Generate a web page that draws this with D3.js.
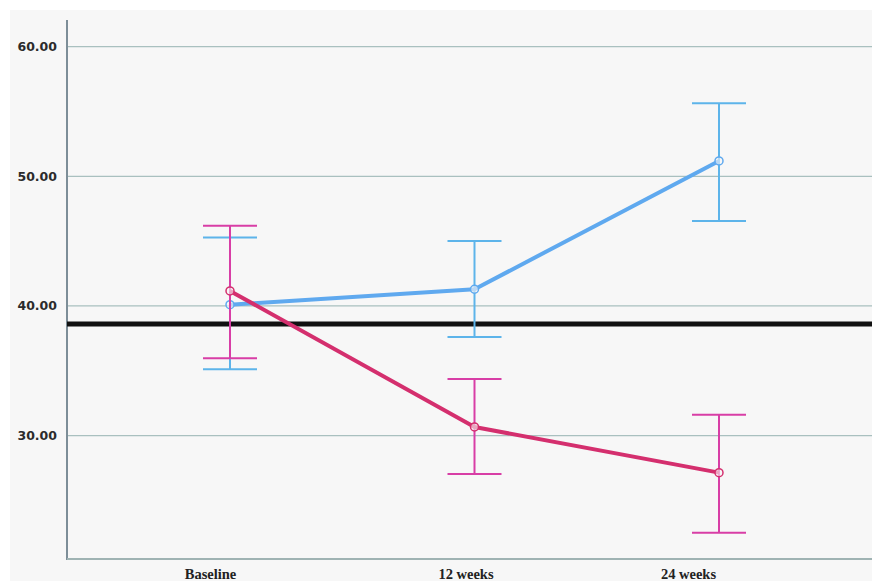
<!DOCTYPE html>
<html>
<head>
<meta charset="utf-8">
<script src="https://cdn.jsdelivr.net/npm/d3@7"></script>
<style>
  html, body { margin: 0; padding: 0; background: #ffffff; }
  svg { display: block; }
</style>
</head>
<body>
<svg id="chart" width="872" height="581"></svg>
<script>
// Time points
const timepoints = ["Baseline", "12 weeks", "24 weeks"];

// Group A (blue): mean with error bar bounds
const blueMean  = [40.10, 41.29, 51.18];
const blueLower = [35.12, 37.61, 46.55];
const blueUpper = [45.27, 45.01, 55.63];

// Group B (pink): mean with error bar bounds
const pinkMean  = [41.16, 30.67, 27.15];
const pinkLower = [35.97, 27.05, 22.52];
const pinkUpper = [46.19, 34.37, 31.61];

// Horizontal reference value
const referenceValue = 38.61;

// Y axis ticks
const yTicks = [30, 40, 50, 60];

(function () {
  const svg = d3.select("#chart");
  const W = 872, H = 581;
  const plot = { left: 67, right: 872, top: 20, bottom: 559 };

  // panel background
  svg.append("rect").attr("x", 10).attr("y", 10).attr("width", W - 10).attr("height", H - 10)
    .attr("fill", "#f7f7f7");

  const y = d3.scaleLinear().domain([20.49, 62.05]).range([plot.bottom, plot.top]);
  const x = d3.scalePoint().domain(timepoints).range([230, 719]);

  // gridlines
  svg.append("g").selectAll("line").data(yTicks).join("line")
    .attr("x1", plot.left).attr("x2", plot.right)
    .attr("y1", d => y(d)).attr("y2", d => y(d))
    .attr("stroke", "#a9c0bf").attr("stroke-width", 1.2);

  // y axis labels
  const yAxis = d3.axisLeft(y).tickValues(yTicks).tickFormat(d3.format(".2f")).tickSize(0).tickPadding(10);
  const gy = svg.append("g").attr("transform", `translate(${plot.left},0)`).call(yAxis);
  gy.select(".domain").remove();
  gy.selectAll("text")
    .attr("font-family", "DejaVu Sans, sans-serif")
    .attr("font-weight", "bold")
    .attr("font-size", 12.5)
    .attr("fill", "#2b2b2b");

  // x axis labels (shifted slightly left of their time points)
  const labelShift = [-20, -9, -31];
  const xAxis = d3.axisBottom(x).tickSize(0).tickPadding(10);
  const gx = svg.append("g").attr("transform", `translate(0,${plot.bottom})`).call(xAxis);
  gx.select(".domain").remove();
  gx.selectAll("text")
    .attr("dx", (d, i) => labelShift[i])
    .attr("font-family", "Liberation Serif, serif")
    .attr("font-weight", "bold")
    .attr("font-size", 14.5)
    .attr("fill", "#222");

  // axis lines
  svg.append("line").attr("x1", plot.left).attr("x2", plot.left).attr("y1", plot.top).attr("y2", plot.bottom + 1)
    .attr("stroke", "#7d8e98").attr("stroke-width", 2);
  svg.append("line").attr("x1", plot.left).attr("x2", plot.right).attr("y1", plot.bottom).attr("y2", plot.bottom)
    .attr("stroke", "#9fb3b3").attr("stroke-width", 2);

  // reference line
  svg.append("line").attr("x1", plot.left).attr("x2", plot.right)
    .attr("y1", y(referenceValue)).attr("y2", y(referenceValue))
    .attr("stroke", "#111").attr("stroke-width", 5);

  function drawSeries(mean, lower, upper, barColor, lineColor) {
    const g = svg.append("g");
    const data = timepoints.map((t, i) => ({ t, m: mean[i], lo: lower[i], hi: upper[i] }));
    const cap = 27;
    // error bars
    g.selectAll(".v").data(data).join("line")
      .attr("x1", d => x(d.t)).attr("x2", d => x(d.t))
      .attr("y1", d => y(d.hi)).attr("y2", d => y(d.lo))
      .attr("stroke", barColor).attr("stroke-width", 2);
    g.selectAll(".capHi").data(data).join("line")
      .attr("x1", d => x(d.t) - cap).attr("x2", d => x(d.t) + cap)
      .attr("y1", d => y(d.hi)).attr("y2", d => y(d.hi))
      .attr("stroke", barColor).attr("stroke-width", 2);
    g.selectAll(".capLo").data(data).join("line")
      .attr("x1", d => x(d.t) - cap).attr("x2", d => x(d.t) + cap)
      .attr("y1", d => y(d.lo)).attr("y2", d => y(d.lo))
      .attr("stroke", barColor).attr("stroke-width", 2);
    // mean line
    g.append("path").datum(data)
      .attr("d", d3.line().x(d => x(d.t)).y(d => y(d.m)))
      .attr("fill", "none").attr("stroke", lineColor).attr("stroke-width", 4)
      .attr("stroke-linejoin", "round");
    // markers
    g.selectAll("circle").data(data).join("circle")
      .attr("cx", d => x(d.t)).attr("cy", d => y(d.m)).attr("r", 4)
      .attr("fill", "#f7f7f7").attr("fill-opacity", 0.6)
      .attr("stroke", lineColor).attr("stroke-width", 1.5);
  }

  drawSeries(blueMean, blueLower, blueUpper, "#5db4ea", "#5fa9ef");
  drawSeries(pinkMean, pinkLower, pinkUpper, "#d83ea6", "#d42f6e");
})();
</script>
</body>
</html>
